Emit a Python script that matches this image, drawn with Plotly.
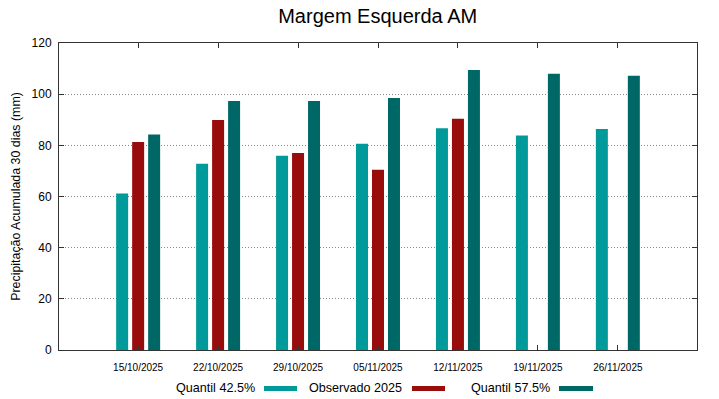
import plotly.graph_objects as go

dates = ["15/10/2025", "22/10/2025", "29/10/2025", "05/11/2025", "12/11/2025", "19/11/2025", "26/11/2025"]
q425 = [61.2, 72.8, 75.9, 80.6, 86.7, 83.8, 86.4]
obs2025 = [81.3, 89.9, 77.0, 70.5, 90.4, None, None]
q575 = [84.2, 97.3, 97.3, 98.5, 109.4, 108.0, 107.2]

names = ["Quantil 42.5%", "Observado 2025", "Quantil 57.5%"]
colors = ["#009a9a", "#990c0c", "#006767"]
series = [q425, obs2025, q575]

fig = go.Figure()
for n, c, v in zip(names, colors, series):
    fig.add_trace(go.Bar(x=dates, y=v, name=n, marker=dict(color=c, line=dict(width=0)),
                         showlegend=False))

font = "Liberation Sans, Arial, sans-serif"
L, R, T, B = 59, 697, 43, 350
PW, PH = R - L, B - T


def px(x):
    return (x - L) / PW


def py(y):
    return (B - y) / PH


fig.update_layout(
    width=719, height=399,
    margin=dict(l=L, r=719 - R, t=T, b=399 - B, autoexpand=False),
    paper_bgcolor="white", plot_bgcolor="white",
    barmode="group", bargap=0.4, bargroupgap=0.25,
    font=dict(family=font, color="black"),
    title=dict(text="Margem Esquerda AM", x=0.5253, xanchor="center", y=1 - 16 / 399, yanchor="middle",
               font=dict(size=20, family=font)),
)
fig.update_xaxes(
    type="category", range=[-0.99, 6.99],
    showline=True, linecolor="#333", linewidth=1, mirror="ticks",
    ticks="inside", ticklen=5, tickcolor="#333",
    tickfont=dict(size=10), showgrid=False, ticklabelstandoff=8,
)
fig.update_yaxes(
    range=[0, 120], dtick=20,
    showline=True, linecolor="#333", linewidth=1, mirror="ticks",
    ticks="inside", ticklen=5, tickcolor="#333",
    tickfont=dict(size=12), ticklabelstandoff=4,
    showgrid=True, gridcolor="#888", griddash="1px,2px", gridwidth=1, zeroline=False,
    title=dict(text="Precipitação Acumulada 30 dias (mm)", font=dict(size=12.4), standoff=8),
)

# gnuplot-style legend: text then colour sample to its right
leg_text_right = [257, 404, 552]
leg_swatch = [(264, 297), (412, 445), (559, 593)]
for n, c, xr, (s0, s1) in zip(names, colors, leg_text_right, leg_swatch):
    fig.add_annotation(x=px(xr), y=py(387.5), xref="paper", yref="paper",
                       xanchor="right", yanchor="middle", text=n, showarrow=False,
                       font=dict(size=12.6, family=font))
    fig.add_shape(type="rect", xref="paper", yref="paper",
                  x0=px(s0), x1=px(s1),
                  y0=py(391), y1=py(386),
                  fillcolor=c, line=dict(width=0))

fig.write_html("out.html", config={"displayModeBar": False},
               post_script="document.body.style.margin='0';document.body.style.padding='0';"
                           "document.body.style.overflow='hidden';")
